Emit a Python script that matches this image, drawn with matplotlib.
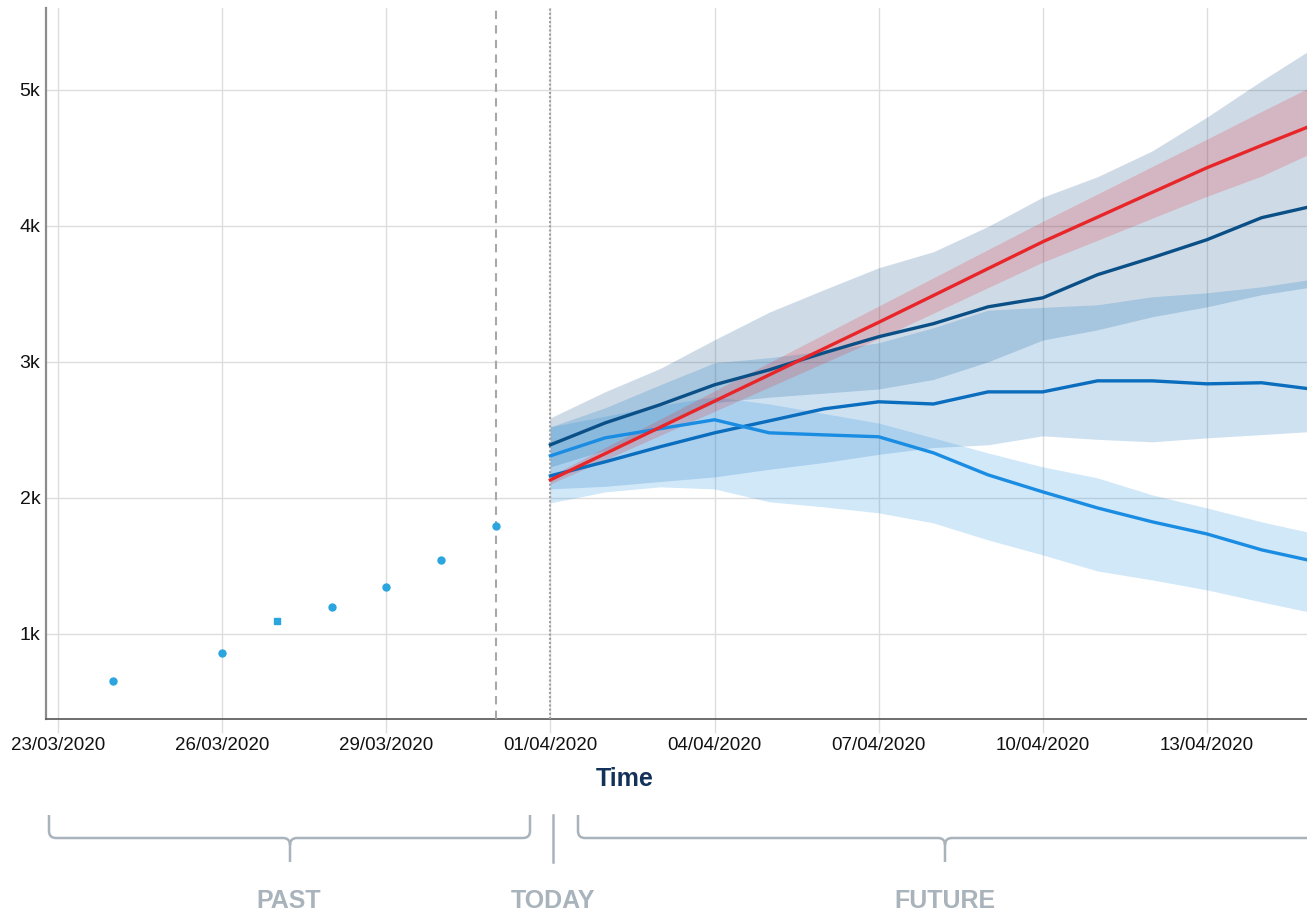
import matplotlib
matplotlib.use("Agg")
import matplotlib.pyplot as plt
import matplotlib.dates as mdates
from matplotlib.path import Path
from matplotlib.patches import PathPatch
from matplotlib.ticker import FuncFormatter
import pandas as pd

plt.rcParams['font.family'] = ['Liberation Sans', 'DejaVu Sans']

# ---------------- data ----------------
past_dates = ["2020-03-24", "2020-03-26", "2020-03-27", "2020-03-28",
              "2020-03-29", "2020-03-30", "2020-03-31"]
past_values = [654, 860, 1096, 1199, 1346, 1544, 1794]

fc_start = "2020-04-01"
fc_days = 15

navy_line = [2390, 2551, 2684, 2831, 2941, 3066, 3184, 3280, 3404, 3470, 3640, 3765, 3897, 4059, 4150]
navy_upper = [2588, 2780, 2950, 3162, 3365, 3530, 3691, 3809, 3995, 4210, 4360, 4550, 4798, 5065, 5320]
navy_lower = [2228, 2350, 2520, 2700, 2740, 2770, 2800, 2870, 3000, 3160, 3235, 3331, 3404, 3493, 3555]

mid_line = [2162, 2265, 2375, 2478, 2566, 2654, 2706, 2690, 2779, 2779, 2860, 2860, 2838, 2846, 2795]
mid_upper = [2522, 2662, 2830, 2993, 3030, 3080, 3140, 3250, 3380, 3400, 3419, 3478, 3507, 3551, 3612]
mid_lower = [2066, 2085, 2120, 2154, 2210, 2260, 2320, 2370, 2390, 2456, 2430, 2412, 2441, 2465, 2490]

light_line = [2309, 2441, 2508, 2574, 2478, 2463, 2449, 2331, 2169, 2044, 1926, 1824, 1735, 1618, 1530]
light_upper = [2522, 2600, 2680, 2743, 2690, 2620, 2550, 2441, 2330, 2228, 2147, 2022, 1926, 1824, 1735]
light_lower = [1963, 2044, 2081, 2066, 1971, 1934, 1890, 1816, 1691, 1581, 1463, 1397, 1324, 1235, 1150]

red_line = [2132, 2325, 2518, 2711, 2904, 3097, 3290, 3487, 3685, 3882, 4063, 4245, 4426, 4590, 4750]
red_upper = [2162, 2370, 2578, 2786, 2994, 3202, 3410, 3617, 3825, 4032, 4233, 4435, 4636, 4840, 5040]
red_lower = [2102, 2280, 2458, 2636, 2814, 2992, 3170, 3357, 3545, 3732, 3893, 4055, 4216, 4365, 4550]

last_observed = "2020-03-31"
today = "2020-04-01"
tick_start = "2020-03-23"
y_ticks = [1000, 2000, 3000, 4000, 5000]

# ---------------- figure ----------------
W, H = 1307, 914
fig = plt.figure(figsize=(W / 100, H / 100), dpi=100)
ax = fig.add_axes([46 / W, 1 - 719 / H, (1307 - 46) / W, (719 - 8) / H])

fc_dates = pd.date_range(fc_start, periods=fc_days, freq="D")
pdates = pd.to_datetime(past_dates)

c_navy = "#0b4f87"
c_mid = "#0a6dbd"
c_light = "#1a8de3"
c_red = "#e8262a"

ax.fill_between(fc_dates, navy_lower, navy_upper, color=c_navy, alpha=0.2, lw=0, zorder=2)
ax.fill_between(fc_dates, mid_lower, mid_upper, color=c_mid, alpha=0.2, lw=0, zorder=2)
ax.fill_between(fc_dates, light_lower, light_upper, color=c_light, alpha=0.2, lw=0, zorder=2)
ax.fill_between(fc_dates, red_lower, red_upper, color=c_red, alpha=0.2, lw=0, zorder=2)

ax.plot(fc_dates, navy_line, color=c_navy, lw=2.4, zorder=4)
ax.plot(fc_dates, mid_line, color=c_mid, lw=2.4, zorder=4)
ax.plot(fc_dates, light_line, color=c_light, lw=2.4, zorder=4)
ax.plot(fc_dates, red_line, color=c_red, lw=2.4, zorder=5)

marker_shapes = ['o', 'o', 's', 'o', 'o', 'o', 'o']
for d, v, m in zip(pdates, past_values, marker_shapes):
    ax.plot([d], [v], marker=m, color="#2aa5e0", ms=5 if m == 'o' else 4.2,
            mec="#2aa5e0", ls='none', zorder=5)

ax.axvline(pd.Timestamp(last_observed), color="#a8a8a8", ls=(0, (4, 3)), lw=1.5, zorder=3)
ax.axvline(pd.Timestamp(today), color="#a0a0a0", ls=(0, (1, 1)), lw=1.5, zorder=3)

t0 = pd.Timestamp(tick_start)
ax.set_xlim(t0 - pd.Timedelta(hours=5.3), t0 + pd.Timedelta(hours=22.83 * 24))
ax.set_ylim(375, 5600)

ax.xaxis.set_major_locator(mdates.DayLocator(bymonthday=[23, 26, 29, 1, 4, 7, 10, 13]))
ax.xaxis.set_major_formatter(mdates.DateFormatter("%d/%m/%Y"))
ax.set_yticks(y_ticks)
ax.yaxis.set_major_formatter(FuncFormatter(lambda v, p: f"{int(v / 1000)}k"))

ax.grid(True, color="#dddddd", lw=1, zorder=0)
ax.set_axisbelow(True)
ax.tick_params(axis='x', length=10, width=1, color="#dddddd", pad=3, labelsize=13.5, labelcolor="#111111")
ax.tick_params(axis='y', length=0, pad=4, labelsize=14, labelcolor="#111111")

for s in ["top", "right"]:
    ax.spines[s].set_visible(False)
ax.spines["left"].set_color("#8c8c8c")
ax.spines["left"].set_linewidth(1.6)
ax.spines["bottom"].set_color("#555555")
ax.spines["bottom"].set_linewidth(1.2)

# ---------------- annotations below ----------------
fig.text(625 / W, 1 - 779 / H, "Time", ha="center", va="center",
         fontsize=18, fontweight="bold", color="#13325a")

def fx(px):
    return px / W

def fy(py):
    return 1 - py / H

def bracket(x0, x1, xm, ytop=815, ymid=838, ybot=862, r=7):
    verts = [
        (x0, ytop), (x0, ymid - r), (x0, ymid), (x0 + r, ymid),
        (xm - r, ymid), (xm, ymid), (xm, ymid + r), (xm, ybot),
        (xm, ymid + r), (xm, ymid), (xm + r, ymid),
        (x1 - r, ymid), (x1, ymid), (x1, ymid - r), (x1, ytop),
    ]
    codes = [Path.MOVETO, Path.LINETO, Path.CURVE3, Path.CURVE3,
             Path.LINETO, Path.CURVE3, Path.CURVE3, Path.LINETO,
             Path.MOVETO, Path.CURVE3, Path.CURVE3,
             Path.LINETO, Path.CURVE3, Path.CURVE3, Path.LINETO]
    verts = [(fx(a), fy(b)) for a, b in verts]
    p = PathPatch(Path(verts, codes), transform=fig.transFigure, fill=False,
                  edgecolor="#a9b3bc", lw=1.8)
    fig.add_artist(p)

bracket(49, 530, 290)
bracket(578, 1330, 945)
fig.add_artist(plt.Line2D([fx(553), fx(553)], [fy(815), fy(862)],
                          transform=fig.transFigure, color="#a9b3bc", lw=1.8))

lab_kw = dict(ha="center", va="center", fontsize=18, fontweight="bold", color="#a9b3bc")
fig.text(fx(289), fy(901), "PAST", **lab_kw)
fig.text(fx(553), fy(901), "TODAY", **lab_kw)
fig.text(fx(945), fy(901), "FUTURE", **lab_kw)

fig.savefig("out.png", dpi=100)
